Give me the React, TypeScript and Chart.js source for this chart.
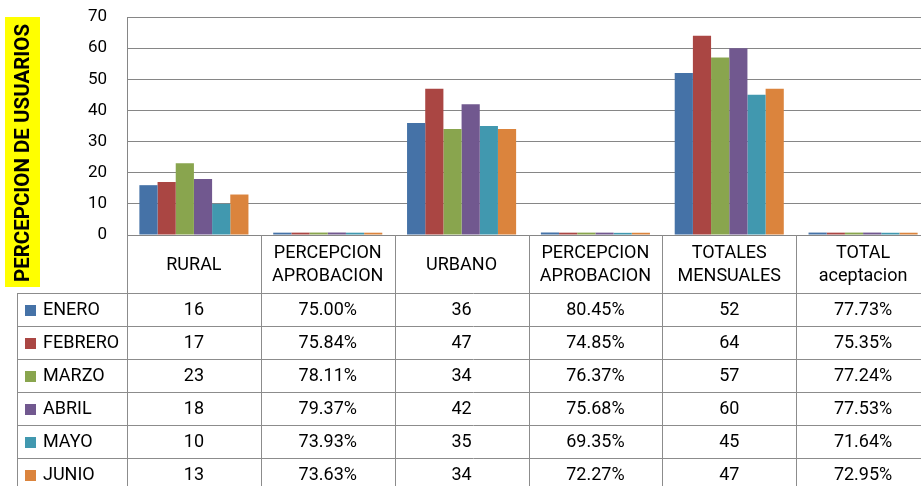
import React, { useEffect, useRef } from "react";
import { Chart, registerables } from "chart.js";

Chart.register(...registerables);

const categories: string[][] = [
  ["RURAL"],
  ["PERCEPCION", "APROBACION"],
  ["URBANO"],
  ["PERCEPCION", "APROBACION"],
  ["TOTALES", "MENSUALES"],
  ["TOTAL", "aceptacion"],
];
const isPercent = [false, true, false, true, false, true];

const months = ["ENERO", "FEBRERO", "MARZO", "ABRIL", "MAYO", "JUNIO"];
const monthColors = ["#4572A7", "#AA4643", "#89A54E", "#71588F", "#4198AF", "#DB843D"];

const enero = [16, 0.75, 36, 0.8045, 52, 0.7773];
const febrero = [17, 0.7584, 47, 0.7485, 64, 0.7535];
const marzo = [23, 0.7811, 34, 0.7637, 57, 0.7724];
const abril = [18, 0.7937, 42, 0.7568, 60, 0.7753];
const mayo = [10, 0.7393, 35, 0.6935, 45, 0.7164];
const junio = [13, 0.7363, 34, 0.7227, 47, 0.7295];
const seriesValues = [enero, febrero, marzo, abril, mayo, junio];

const yTicks = [0, 10, 20, 30, 40, 50, 60, 70];
const yTitle = "PERCEPCION DE USUARIOS";

const FONT = "Roboto";
const LINE = "#8C8C8C";

const fmt = (v: number, pct: boolean) => (pct ? (v * 100).toFixed(2) + "%" : String(v));

const titlePlugin = {
  id: "yTitleBox",
  afterDraw(chart: any) {
    const ctx = chart.ctx as CanvasRenderingContext2D;
    ctx.save();
    ctx.fillStyle = "#FFFF00";
    ctx.fillRect(5, 17, 35, 270);
    ctx.translate(23, 153);
    ctx.rotate(-Math.PI / 2);
    ctx.fillStyle = "#000";
    ctx.font = `bold 20.5px ${FONT}`;
    ctx.textAlign = "center";
    ctx.textBaseline = "middle";
    ctx.fillText(yTitle, 0, 1);
    ctx.restore();
  },
};

const tablePlugin = {
  id: "dataTable",
  afterDraw(chart: any) {
    const ctx = chart.ctx as CanvasRenderingContext2D;
    const area = chart.chartArea;
    const n = categories.length;
    const bw = (area.right - area.left) / n;
    const headTop = area.bottom;
    const headBottom = 293;
    const rowH = 33;
    const legendLeft = 17;
    const right = area.right;
    const px = (v: number) => Math.round(v) + 0.5;

    ctx.save();
    ctx.strokeStyle = LINE;
    ctx.lineWidth = 1;
    ctx.beginPath();
    for (let i = 0; i <= n; i++) {
      const x = px(area.left + i * bw);
      ctx.moveTo(x, headTop);
      ctx.lineTo(x, headBottom + rowH * months.length);
    }
    ctx.moveTo(px(legendLeft), headBottom);
    ctx.lineTo(px(legendLeft), headBottom + rowH * months.length);
    for (let r = 0; r <= months.length; r++) {
      const y = px(headBottom + r * rowH);
      ctx.moveTo(legendLeft, y);
      ctx.lineTo(right, y);
    }
    ctx.stroke();

    ctx.fillStyle = "#000";
    ctx.font = `18px ${FONT}`;
    ctx.textAlign = "center";
    ctx.textBaseline = "middle";
    for (let i = 0; i < n; i++) {
      const cx = area.left + (i + 0.5) * bw;
      const lines = categories[i];
      const mid = (headTop + headBottom) / 2;
      if (lines.length === 1) {
        ctx.fillText(lines[0], cx, mid + 1);
      } else {
        ctx.fillText(lines[0], cx, mid - 11);
        ctx.fillText(lines[1], cx, mid + 12.5);
      }
    }
    for (let r = 0; r < months.length; r++) {
      const cy = headBottom + r * rowH + rowH / 2 + 1;
      ctx.fillStyle = monthColors[r];
      ctx.fillRect(25, Math.round(cy - 6), 11, 11);
      ctx.fillStyle = "#000";
      ctx.textAlign = "left";
      ctx.fillText(months[r], 43, cy);
      ctx.textAlign = "center";
      for (let i = 0; i < n; i++) {
        const cx = area.left + (i + 0.5) * bw;
        ctx.fillText(fmt(seriesValues[r][i], isPercent[i]), cx, cy);
      }
    }
    ctx.restore();
  },
};

export default function App() {
  const ref = useRef<HTMLCanvasElement | null>(null);
  useEffect(() => {
    if (!ref.current) return;
    const chart = new Chart(ref.current, {
      type: "bar",
      data: {
        labels: categories.map((c) => c.join(" ")),
        datasets: months.map((m, i) => ({
          label: m,
          data: seriesValues[i],
          backgroundColor: monthColors[i],
          borderWidth: 0,
          categoryPercentage: 0.815,
          barPercentage: 1,
        })),
      },
      options: {
        responsive: false,
        animation: false,
        devicePixelRatio: 1,
        layout: { padding: { top: 17, bottom: 251, left: 0, right: 0 } },
        plugins: {
          legend: { display: false },
          tooltip: { enabled: false },
          title: { display: false },
        },
        scales: {
          x: { display: false },
          y: {
            min: 0,
            max: 70,
            afterBuildTicks: (s: any) => {
              s.ticks = yTicks.map((v) => ({ value: v }));
            },
            afterFit: (s: any) => {
              s.width = 127;
              s.paddingTop = 0;
              s.paddingBottom = 0;
            },
            ticks: {
              padding: 20,
              color: "#000",
              font: { family: FONT, size: 17 },
            },
            grid: { color: "#868686", drawTicks: false, tickLength: 0 },
            border: { color: "#868686" },
          },
        },
      },
      plugins: [titlePlugin, tablePlugin],
    });
    return () => chart.destroy();
  }, []);
  return (
    <div
      style={{
        position: "absolute",
        left: 0,
        top: 0,
        width: 921,
        height: 486,
        overflow: "hidden",
        background: "#fff",
      }}
    >
      <canvas ref={ref} width={930} height={486} style={{ width: 930, height: 486, display: "block" }} />
    </div>
  );
}
